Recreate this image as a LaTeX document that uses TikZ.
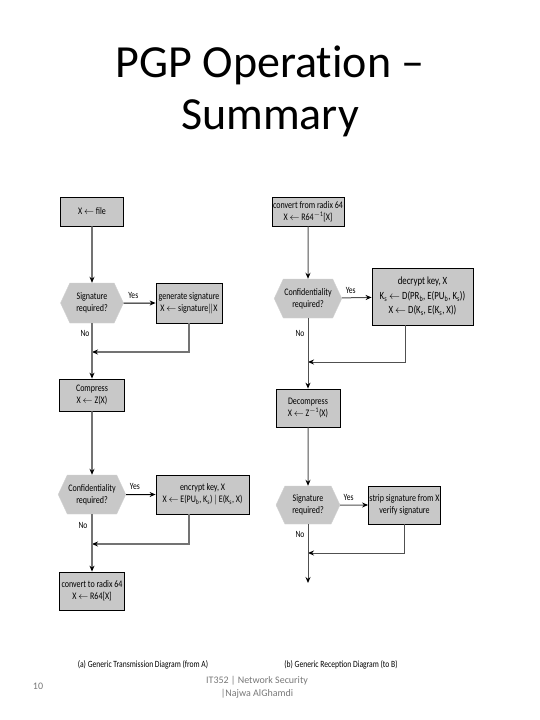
\documentclass[tikz,border=0pt]{standalone}
\usepackage{fontspec}
\setmainfont{Carlito}[Ligatures=NoCommon]
\newfontfamily\cond[FakeStretch=0.8]{Carlito}
\usetikzlibrary{shapes.symbols,arrows.meta}
\definecolor{boxgray}{RGB}{200,200,200}
\definecolor{linegray}{RGB}{115,115,115}
\definecolor{footgray}{RGB}{120,120,120}
\newcommand{\sbs}[1]{\textsubscript{#1}}
\tikzset{
  stepbox/.style={draw=black, fill=boxgray, line width=0.8pt, align=center, inner sep=1pt, font=\cond\fontsize{10}{12}\selectfont},
  hexbox/.style={signal, signal to=east and west, signal pointer angle=130, draw=boxgray!80!white, fill=boxgray, align=center, inner sep=1pt, font=\cond\fontsize{10}{12}\selectfont},
  flowL/.style={draw=linegray, line width=1.8pt, -{Stealth[length=6pt,width=5pt,color=black]}},
  flowR/.style={draw=linegray!70!black, line width=1pt, -{Stealth[length=6pt,width=5pt,color=black]}},
  yesarrow/.style={draw=black, line width=1pt, -{Stealth[length=6pt,width=5pt]}},
  lbl/.style={font=\cond\fontsize{9.5}{11}\selectfont, inner sep=0pt},
}
\begin{document}
\begin{tikzpicture}[x=1pt,y=-1pt]
\useasboundingbox (0,0) rectangle (540,720);
% title
\node[font=\fontsize{46}{52}\selectfont, align=center] (title) at (270,91) {PGP Operation --\\Summary};

% ---------- left column ----------
\node[stepbox, minimum width=63pt, minimum height=29pt] (a1) at (92,211.5) {X $\leftarrow$ file};
\node[hexbox, minimum width=63pt, minimum height=40pt] (a2) at (92,303) {Signature\\required?};
\node[stepbox, minimum width=66pt, minimum height=40pt] (a3) at (189,303) {generate signature\\X $\leftarrow$ signature$\|$X};
\node[stepbox, minimum width=65pt, minimum height=32pt] (a4) at (92,395) {Compress\\X $\leftarrow$ Z(X)};
\node[hexbox, minimum width=65pt, minimum height=39pt] (a5) at (92,494.5) {Confidentiality\\required?};
\node[stepbox, minimum width=93pt, minimum height=39pt] (a6) at (202.5,494.5) {encrypt key, X\\X $\leftarrow$ E(PU\sbs{b}, K\sbs{s}) $|$ E(K\sbs{s}, X)};
\node[stepbox, minimum width=65pt, minimum height=38pt] (a7) at (92,591) {convert to radix 64\\X $\leftarrow$ R64[X]};
\coordinate (j1) at (92,352);
\coordinate (j2) at (92,544);

\draw[flowL] (a1) -- (a2);
\draw[yesarrow] (a2) -- (a3) node[lbl, pos=0.3, above=4pt] {Yes};
\node[lbl] (n1) at (85,333) {No};
\draw[flowL] (a3.south) |- (j1);
\draw[flowL] (a2.south) -- (a4.north);
\draw[flowL] (a4) -- (a5);
\draw[yesarrow] (a5) -- (a6) node[lbl, pos=0.3, above=4pt] {Yes};
\node[lbl] (n2) at (83,525) {No};
\draw[flowL] (a6.south -| 189,0) |- (j2);
\draw[flowL] (a5.south) -- (a7.north);

% ---------- right column ----------
\node[stepbox, minimum width=66pt, minimum height=29pt] (b1) at (308,211.5) {convert from radix 64\\X $\leftarrow$ R64\textsuperscript{$-$1}[X]};
\node[hexbox, minimum width=63pt, minimum height=39pt] (b2) at (308,298.5) {Confidentiality\\required?};
\node[stepbox, minimum width=101pt, minimum height=57pt, font=\cond\fontsize{11}{14.5}\selectfont] (b3) at (422.5,296.5) {decrypt key, X\\K\sbs{s} $\leftarrow$ D(PR\sbs{b}, E(PU\sbs{b}, K\sbs{s}))\\X $\leftarrow$ D(K\sbs{s}, E(K\sbs{s}, X))};
\node[stepbox, minimum width=64pt, minimum height=38pt] (b4) at (308,408) {Decompress\\X $\leftarrow$ Z\textsuperscript{$-$1}(X)};
\node[hexbox, minimum width=64pt, minimum height=38pt] (b5) at (308,505) {Signature\\required?};
\node[stepbox, minimum width=65pt, minimum height=38pt] (b6) at (404.5,505) {strip signature from X\\verify signature};
\coordinate (k1) at (308,362);
\coordinate (k2) at (308,553);
\coordinate (kend) at (308,583);

\draw[flowR] (b1) -- (b2);
\draw[flowR] (b2) -- (b3) node[lbl, pos=0.3, above=4pt] {Yes};
\node[lbl] (m1) at (300,333) {No};
\draw[flowR] (b3.south -| 405,0) |- (k1);
\draw[flowR] (b2.south) -- (b4.north);
\draw[flowR] (b4) -- (b5);
\draw[flowR] (b5) -- (b6) node[lbl, pos=0.3, above=4pt] {Yes};
\node[lbl] (m2) at (300,534) {No};
\draw[flowR] (b6.south) |- (k2);
\draw[flowR] (b5.south) -- (kend);

% captions
\node[lbl] (capa) at (143,665) {(a) Generic Transmission Diagram (from A)};
\node[lbl] (capb) at (341,665) {(b) Generic Reception Diagram (to B)};

% footer
\node[font=\fontsize{10}{13}\selectfont, text=footgray, align=center] (foot) at (257,687) {IT352 | Network Security\\|Najwa AlGhamdi};
\node[font=\fontsize{10}{12}\selectfont, text=footgray] (pg) at (38,686) {10};
\end{tikzpicture}
\end{document}
